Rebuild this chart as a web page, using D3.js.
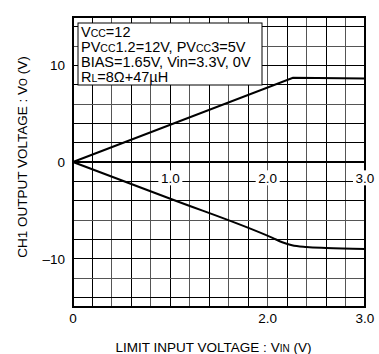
<!DOCTYPE html>
<html>
<head>
<meta charset="utf-8">
<script src="https://cdn.jsdelivr.net/npm/d3@7"></script>
<style>
  body { margin: 0; background: #fff; }
  text { font-family: "Liberation Sans", Arial, sans-serif; fill: #000; }
</style>
</head>
<body>
<div id="chart"></div>
<script>
// values
var upperVin = [0, 2.26, 3.0];
var upperVo  = [0, 8.72, 8.65];
var lowerVin = [0, 1.0, 2.05, 2.15, 2.25, 2.4, 2.6, 3.0];
var lowerVo  = [0, -3.8, -7.85, -8.3, -8.62, -8.8, -8.9, -9.0];

var xTicksBottom = [0, 2.0, 3.0];
var xTicksInner = [1.0, 2.0, 3.0];
var yTicks = [10, 0, -10];
var notes = [
  [["V", ""], ["CC", "s"], ["=12", ""]],
  [["PV", ""], ["CC", "s"], ["1.2=12V, PV", ""], ["CC", "s"], ["3=5V", ""]],
  [["BIAS=1.65V, Vin=3.3V, 0V", ""]],
  [["R", ""], ["L", "s"], ["=8\u03A9+47\u00B5H", ""]]
];

var width = 379,
    height = 354;

var svg = d3.select("#chart")
            .append("svg")
            .attr("width", width)
            .attr("height", height);

var x = d3.scaleLinear().domain([0, 3]).range([73, 365]);
var y = d3.scaleLinear().domain([-15, 15]).range([307, 17]);

// grid
svg.append("g").selectAll("line.vg")
   .data(d3.range(1, 15).map(function(i) { return i * 0.2; }))
   .enter().append("line")
   .attr("x1", function(d) { return x(d); })
   .attr("x2", function(d) { return x(d); })
   .attr("y1", y(15)).attr("y2", y(-15))
   .attr("stroke", function(d, i) { return i % 2 ? "#555" : "#000"; })
   .attr("stroke-width", 1)
   .style("shape-rendering", "crispEdges");

svg.append("g").selectAll("line.hg")
   .data(d3.range(-14, 15, 2))
   .enter().append("line")
   .attr("x1", x(0)).attr("x2", x(3))
   .attr("y1", function(d) { return y(d); })
   .attr("y2", function(d) { return y(d); })
   .attr("stroke", function(d, i) { return d == 0 ? "#000" : (i % 3 == 1 ? "#555" : "#000"); })
   .attr("stroke-width", function(d) { return d == 0 ? 2 : 1; })
   .style("shape-rendering", "crispEdges");

// curves
var upperLine = d3.line()
  .x(function(d) { return x(d[0]); })
  .y(function(d) { return y(d[1]); });

var lowerLine = d3.line()
  .x(function(d) { return x(d[0]); })
  .y(function(d) { return y(d[1]); })
  .curve(d3.curveMonotoneX);

svg.append("path")
   .datum(upperVin.map(function(v, i) { return [v, upperVo[i]]; }))
   .attr("d", upperLine)
   .attr("fill", "none").attr("stroke", "#000").attr("stroke-width", 2);

svg.append("path")
   .datum(lowerVin.map(function(v, i) { return [v, lowerVo[i]]; }))
   .attr("d", lowerLine)
   .attr("fill", "none").attr("stroke", "#000").attr("stroke-width", 2);

// frame
svg.append("rect")
   .attr("x", x(0)).attr("y", y(15))
   .attr("width", x(3) - x(0)).attr("height", y(-15) - y(15))
   .attr("fill", "none").attr("stroke", "#000").attr("stroke-width", 2);

// inner scale labels on the -2 line
var inner = svg.append("g").selectAll("g.inner")
   .data(xTicksInner)
   .enter().append("g");
inner.append("rect")
   .attr("x", function(d) { return x(d) - 12; })
   .attr("y", y(-2) - 11)
   .attr("width", 24).attr("height", 15)
   .attr("fill", "#fff");
inner.append("text")
   .attr("x", function(d) { return x(d); })
   .attr("y", y(-2) + 1.5)
   .attr("text-anchor", "middle")
   .style("font-size", "13.5px")
   .text(function(d) { return d.toFixed(1); });

// annotation box
svg.append("rect")
   .attr("x", 78).attr("y", 23)
   .attr("width", 184).attr("height", 62)
   .attr("fill", "#fff").attr("stroke", "#000").attr("stroke-width", 1);

var noteText = svg.append("g").selectAll("text.note")
   .data(notes)
   .enter().append("text")
   .attr("x", 81)
   .attr("y", function(d, i) { return 36.5 + i * 15; })
   .style("font-size", "14.5px");
noteText.selectAll("tspan")
   .data(function(d) { return d; })
   .enter().append("tspan")
   .style("font-size", function(d) { return d[1] == "s" ? "10.5px" : null; })
   .text(function(d) { return d[0]; });

// y ticks
svg.append("g").selectAll("text.yt")
   .data(yTicks)
   .enter().append("text")
   .attr("x", 65)
   .attr("y", function(d) { return y(d) + 5; })
   .attr("text-anchor", "end")
   .style("font-size", "13.5px")
   .text(function(d) { return d < 0 ? "\u2013" + Math.abs(d) : d; });

// x ticks
svg.append("g").selectAll("text.xt")
   .data(xTicksBottom)
   .enter().append("text")
   .attr("x", function(d) { return x(d); })
   .attr("y", 322.5)
   .attr("text-anchor", "middle")
   .style("font-size", "13.5px")
   .text(function(d) { return d == 0 ? "0" : d.toFixed(1); });

// axis titles
var xt = svg.append("text")
   .attr("x", 213.5).attr("y", 351.5)
   .attr("text-anchor", "middle")
   .style("font-size", "13.5px");
xt.append("tspan").text("LIMIT INPUT VOLTAGE : V");
xt.append("tspan").style("font-size", "10px").text("IN");
xt.append("tspan").text(" (V)");

var yt = svg.append("text")
   .attr("transform", "translate(26.5,157) rotate(-90)")
   .attr("text-anchor", "middle")
   .style("font-size", "13.5px");
yt.append("tspan").text("CH1 OUTPUT VOLTAGE : V");
yt.append("tspan").style("font-size", "10px").text("O");
yt.append("tspan").text(" (V)");
</script>
</body>
</html>
